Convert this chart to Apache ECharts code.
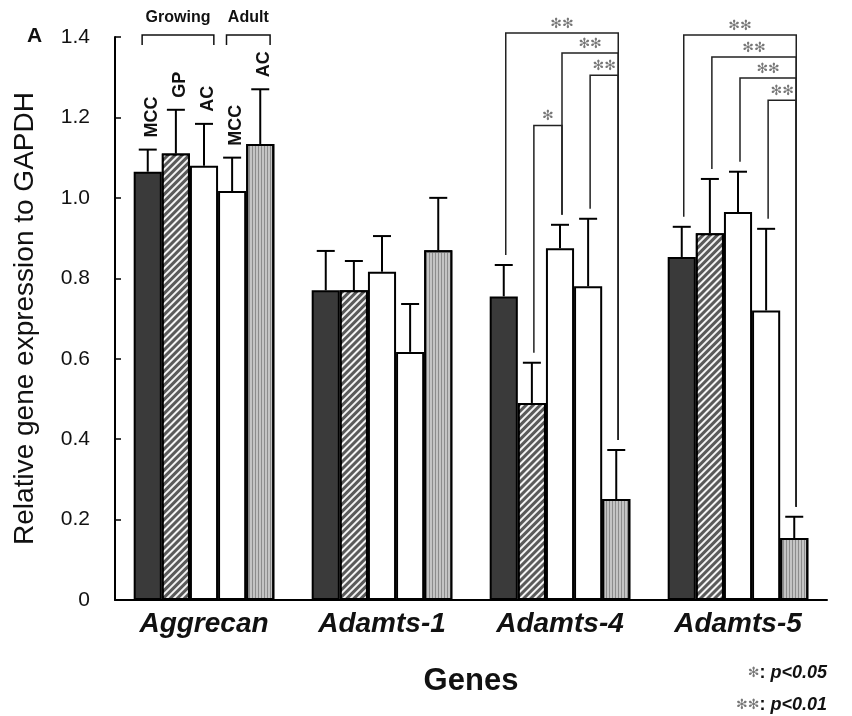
<!DOCTYPE html>
<html>
<head>
<meta charset="utf-8">
<script src="https://cdn.jsdelivr.net/npm/echarts@6/dist/echarts.min.js"></script>
<style>html,body{margin:0;padding:0;background:#fff}#c{width:852px;height:716px}</style>
</head>
<body>
<div id="c"></div>
<script>
// ---------- data ----------
const genes = ['Aggrecan', 'Adamts-1', 'Adamts-4', 'Adamts-5'];
const groupNames = ['MCC (Growing)', 'GP (Growing)', 'AC (Growing)', 'MCC (Adult)', 'AC (Adult)'];
const groupShort = ['MCC', 'GP', 'AC', 'MCC', 'AC'];
const mccGrowing = [1.065, 0.770, 0.755, 0.853];
const gpGrowing  = [1.110, 0.770, 0.490, 0.912];
const acGrowing  = [1.080, 0.816, 0.875, 0.965];
const mccAdult   = [1.017, 0.617, 0.780, 0.720];
const acAdult    = [1.134, 0.870, 0.251, 0.154];
const mccGrowingSD = [0.055, 0.098, 0.078, 0.075];
const gpGrowingSD  = [0.109, 0.073, 0.100, 0.135];
const acGrowingSD  = [0.104, 0.089, 0.058, 0.100];
const mccAdultSD   = [0.083, 0.119, 0.168, 0.203];
const acAdultSD    = [0.136, 0.130, 0.122, 0.053];
const yTicks = [0, 0.2, 0.4, 0.6, 0.8, 1.0, 1.2, 1.4];
// significance brackets: gene index, from group, to group, bracket level, number of stars
const sigGene  = [2, 2, 2, 2, 3, 3, 3, 3];
const sigFrom  = [0, 2, 3, 1, 0, 1, 2, 3];
const sigTo    = [4, 4, 4, 2, 4, 4, 4, 4];
const sigLevel = [1.41, 1.36, 1.305, 1.18, 1.405, 1.35, 1.298, 1.243];
const sigStars = [2, 2, 2, 1, 2, 2, 2, 2];
// age group brackets over Aggrecan
const ageLabels = ['Growing', 'Adult'];
const ageFrom = [0, 3];
const ageTo = [2, 4];
const ageLevel = [1.405, 1.405];

const means = [mccGrowing, gpGrowing, acGrowing, mccAdult, acAdult];
const sds = [mccGrowingSD, gpGrowingSD, acGrowingSD, mccAdultSD, acAdultSD];
const FONT = '"Liberation Sans", Arial, Helvetica, sans-serif';
const STAR = '\u273B';
const CAT_GAP = 0.21;
const NBARS = 5;

function barGeom(api, cat, j) {
  const c = api.coord([cat, 0]);
  const bw = api.size([1, 0])[0];
  const total = bw * (1 - CAT_GAP);
  const w = total / NBARS;
  const left = c[0] - total / 2 + w * j;
  return { left: left, center: left + w / 2, right: left + w, w: w };
}
function errTop(cat, j) { return means[j][cat] + sds[j][cat]; }

const barStyles = [
  { color: '#3a3a3a', borderColor: '#000', borderWidth: 2 },
  { color: '#5a5a5a', borderColor: '#000', borderWidth: 2,
    decal: { symbol: 'rect', symbolSize: 1, color: '#f4f4f4', dashArrayX: [1, 0], dashArrayY: [2, 3], rotation: -Math.PI / 4 } },
  { color: '#ffffff', borderColor: '#000', borderWidth: 2 },
  { color: '#ffffff', borderColor: '#000', borderWidth: 2 },
  { color: '#c4c4c4', borderColor: '#000', borderWidth: 2,
    decal: { symbol: 'rect', symbolSize: 1, color: '#8c8c8c', dashArrayX: [1, 2], dashArrayY: [1, 0], rotation: 0 } }
];

const series = [];
for (let j = 0; j < NBARS; j++) {
  series.push({
    name: groupNames[j], type: 'bar', data: means[j],
    barGap: '0%', barCategoryGap: (CAT_GAP * 100) + '%',
    itemStyle: barStyles[j], silent: true, z: 2
  });
}
// error bars
const errData = [];
for (let j = 0; j < NBARS; j++) for (let c = 0; c < genes.length; c++) errData.push([c, j, means[j][c], errTop(c, j)]);
series.push({
  type: 'custom', z: 5, silent: true, clip: false,
  encode: { x: 0, y: 3 },
  data: errData,
  renderItem: function (params, api) {
    const cat = api.value(0), j = api.value(1);
    const g = barGeom(api, cat, j);
    const x = g.center;
    const y0 = api.coord([cat, api.value(2)])[1];
    const y1 = api.coord([cat, api.value(3)])[1];
    const cap = 9;
    const st = { stroke: '#000', lineWidth: 2 };
    return { type: 'group', children: [
      { type: 'line', shape: { x1: x, y1: y0, x2: x, y2: y1 }, style: st },
      { type: 'line', shape: { x1: x - cap, y1: y1, x2: x + cap, y2: y1 }, style: st }
    ] };
  }
});
// significance brackets
series.push({
  type: 'custom', z: 6, silent: true, clip: false,
  encode: { x: 0, y: 1 },
  data: sigGene.map((g, i) => [g, sigLevel[i]]),
  renderItem: function (params, api) {
    const i = params.dataIndex;
    const cat = sigGene[i];
    const a = barGeom(api, cat, sigFrom[i]);
    const b = barGeom(api, cat, sigTo[i]);
    const xl = a.center + 2, xr = b.center + 2;
    const yl = api.coord([cat, sigLevel[i]])[1];
    const ya = api.coord([cat, errTop(cat, sigFrom[i])])[1] - 10;
    const yb = api.coord([cat, errTop(cat, sigTo[i])])[1] - 10;
    return { type: 'group', children: [
      { type: 'polyline', shape: { points: [[xl, ya], [xl, yl], [xr, yl], [xr, yb]] },
        style: { fill: null, stroke: '#222', lineWidth: 1.5 } },
      { type: 'text', x: (xl + xr) / 2, y: yl - 2,
        style: { text: STAR.repeat(sigStars[i]), textAlign: 'center', textVerticalAlign: 'bottom',
                 fill: '#777', font: '14px "DejaVu Sans", sans-serif' } }
    ] };
  }
});
// age group brackets
series.push({
  type: 'custom', z: 6, silent: true, clip: false,
  encode: { x: 0, y: 1 },
  data: ageLabels.map((l, i) => [0, ageLevel[i]]),
  renderItem: function (params, api) {
    const i = params.dataIndex;
    const a = barGeom(api, 0, ageFrom[i]);
    const b = barGeom(api, 0, ageTo[i]);
    const xl = a.left + a.w * 0.3, xr = b.right - b.w * 0.15;
    const yl = api.coord([0, ageLevel[i]])[1];
    return { type: 'group', children: [
      { type: 'polyline', shape: { points: [[xl, yl + 10], [xl, yl], [xr, yl], [xr, yl + 10]] },
        style: { fill: null, stroke: '#111', lineWidth: 1.5 } },
      { type: 'text', x: (xl + xr) / 2, y: yl - 9,
        style: { text: ageLabels[i], textAlign: 'center', textVerticalAlign: 'bottom',
                 fill: '#111', font: 'bold 16px ' + FONT } }
    ] };
  }
});
// rotated group labels over Aggrecan bars
series.push({
  type: 'custom', z: 6, silent: true, clip: false,
  encode: { x: 0, y: 1 },
  data: groupShort.map((l, j) => [0, errTop(0, j)]),
  renderItem: function (params, api) {
    const j = params.dataIndex;
    const g = barGeom(api, 0, j);
    const y = api.coord([0, errTop(0, j)])[1] - 12;
    return { type: 'text', x: g.center + 4, y: y, rotation: Math.PI / 2,
      style: { text: groupShort[j], textAlign: 'left', textVerticalAlign: 'middle',
               fill: '#111', font: 'bold 18px ' + FONT } };
  }
});

const chart = echarts.init(document.getElementById('c'), null, { renderer: 'canvas' });
chart.setOption({
  backgroundColor: '#fff',
  animation: false,
  grid: { left: 115, right: 25, top: 37, bottom: 116, containLabel: false },
  xAxis: {
    type: 'category', data: genes,
    name: 'Genes', nameLocation: 'middle', nameGap: 66,
    nameTextStyle: { fontFamily: FONT, fontSize: 31, fontWeight: 'bold', color: '#111' },
    axisLine: { lineStyle: { color: '#000', width: 2 } },
    axisTick: { inside: true, length: 6, lineStyle: { color: '#000', width: 1.5 } },
    axisLabel: { fontFamily: FONT, fontSize: 28, fontWeight: 'bold', fontStyle: 'italic', color: '#111', margin: 10 },
    splitLine: { show: false }
  },
  yAxis: {
    type: 'value', min: yTicks[0], max: yTicks[yTicks.length - 1], interval: 0.2,
    name: 'Relative gene expression to GAPDH', nameLocation: 'middle', nameGap: 76,
    nameTextStyle: { fontFamily: FONT, fontSize: 28, color: '#111' },
    axisLine: { show: true, lineStyle: { color: '#000', width: 2 } },
    axisTick: { show: true, inside: true, length: 6, lineStyle: { color: '#000', width: 1.5 } },
    axisLabel: { fontFamily: FONT, fontSize: 21, color: '#111', margin: 25,
      formatter: v => (Math.abs(v) < 1e-9 ? '0' : v.toFixed(1)) },
    splitLine: { show: false }
  },
  graphic: [
    { type: 'text', left: 27, top: 26, style: { text: 'A', font: 'bold 21px ' + FONT, fill: '#111' } },
    { type: 'text', right: 25, top: 664, style: {
        text: '{s|' + STAR + '}{b|: }{i|p<0.05}',
        rich: { s: { font: '14px "DejaVu Sans", sans-serif', fill: '#777' },
                b: { font: 'bold 18px ' + FONT, fill: '#111' },
                i: { font: 'italic bold 18px ' + FONT, fill: '#111' } } } },
    { type: 'text', right: 25, top: 696, style: {
        text: '{s|' + STAR + STAR + '}{b|: }{i|p<0.01}',
        rich: { s: { font: '14px "DejaVu Sans", sans-serif', fill: '#777' },
                b: { font: 'bold 18px ' + FONT, fill: '#111' },
                i: { font: 'italic bold 18px ' + FONT, fill: '#111' } } } }
  ],
  series: series
});
</script>
</body>
</html>
